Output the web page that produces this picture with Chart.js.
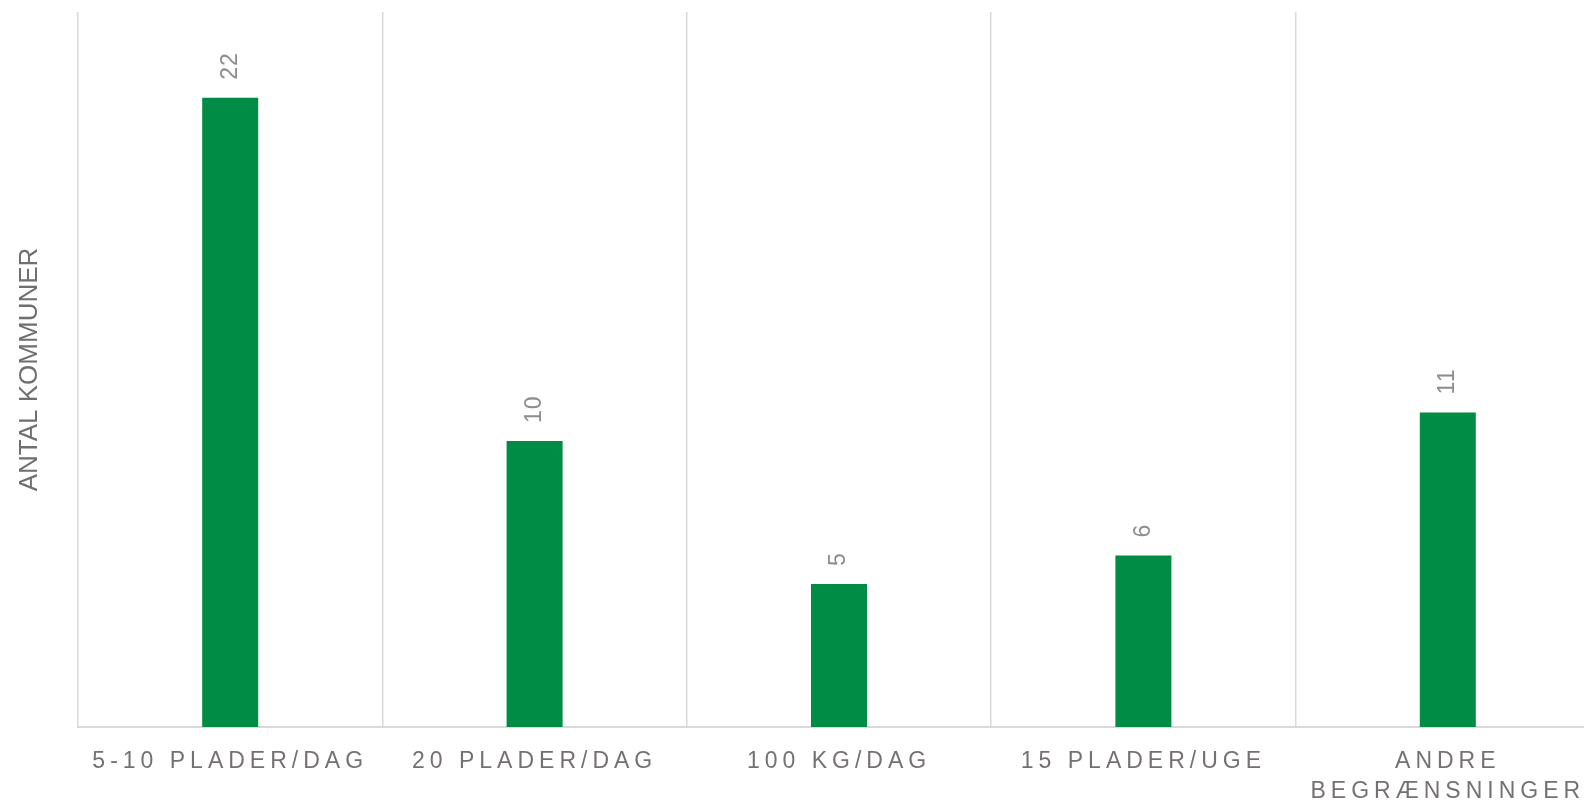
<!DOCTYPE html>
<html lang="da">
<head>
  <meta charset="utf-8">
  <title>Antal kommuner</title>
  <style>
    html, body { margin: 0; padding: 0; background: #fff; overflow: hidden; }
    /* plot runs a little past the right edge, as in the original */
    #wrap { width: 1584px; height: 803px; overflow: hidden; }
  </style>
</head>
<body>
  <div id="wrap">
    <canvas id="chart" width="1600" height="803"></canvas>
  </div>

  <script src="https://cdn.jsdelivr.net/npm/chart.js"></script>
  <script>
    // data
    const categories = [
      '5-10 PLADER/DAG',
      '20 PLADER/DAG',
      '100 KG/DAG',
      '15 PLADER/UGE',
      ['ANDRE', 'BEGRÆNSNINGER']
    ];
    const counts = [22, 10, 5, 6, 11];
    const yTitle = 'ANTAL KOMMUNER';

    const FONT = "'Liberation Sans', Arial, sans-serif";

    // value labels above the bars, turned 90 degrees
    const barLabels = {
      id: 'barLabels',
      afterDatasetsDraw(chart) {
        const ctx = chart.ctx;
        const meta = chart.getDatasetMeta(0);
        const values = chart.data.datasets[0].data;
        meta.data.forEach((bar, i) => {
          ctx.save();
          ctx.letterSpacing = '1px';
          ctx.font = '23px ' + FONT;
          ctx.fillStyle = '#8c8c8c';
          ctx.textAlign = 'left';
          ctx.textBaseline = 'middle';
          ctx.translate(bar.x, bar.y - 18);
          ctx.rotate(-Math.PI / 2);
          ctx.fillText(String(values[i]), 0, 0);
          ctx.restore();
        });
        // x tick labels are drawn after this (ticks z = 1), spaced out
        ctx.letterSpacing = '5px';
      },
      afterDraw(chart) {
        chart.ctx.letterSpacing = '0px';
      }
    };

    new Chart(document.getElementById('chart'), {
      type: 'bar',
      data: {
        labels: categories,
        datasets: [{
          data: counts,
          backgroundColor: '#008c45',
          borderWidth: 0,
          barPercentage: 0.184,
          categoryPercentage: 1
        }]
      },
      options: {
        responsive: false,
        animation: false,
        layout: { padding: { top: 12, right: 0, bottom: 0, left: 0 } },
        plugins: {
          legend: { display: false },
          tooltip: { enabled: false }
        },
        scales: {
          x: {
            grid: {
              display: true,
              offset: true,
              color: '#d9d9d9',
              lineWidth: 1.5,
              drawTicks: false
            },
            border: { display: true, color: '#d9d9d9', width: 2 },
            ticks: {
              z: 1,
              color: '#767171',
              font: { family: FONT, size: 23, lineHeight: 1.3 },
              padding: 20,
              maxRotation: 0,
              autoSkip: false
            },
            afterFit(scale) { scale.height = 76; }
          },
          y: {
            min: 0,
            max: 25,
            grid: { display: false },
            border: { display: false },
            ticks: { display: false },
            title: {
              display: true,
              text: yTitle,
              color: '#6f6f6f',
              font: { family: FONT, size: 26 },
              padding: { top: 14, bottom: 0 }
            },
            afterFit(scale) { scale.width = 78; }
          }
        }
      },
      plugins: [barLabels]
    });
  </script>
</body>
</html>
